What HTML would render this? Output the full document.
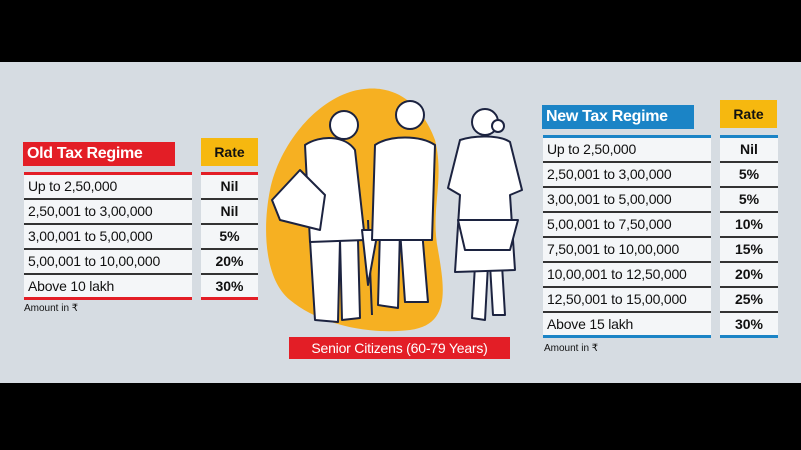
<!DOCTYPE html>
<html><head><meta charset="utf-8"><style>
*{margin:0;padding:0;box-sizing:border-box}
body{width:801px;height:450px;overflow:hidden;background:#000;font-family:"Liberation Sans",sans-serif;position:relative}
#bg{position:absolute;left:0;top:62px;width:801px;height:321px;background:#d6dce2}
.abs{position:absolute}
.hdr{color:#fff;font-weight:bold;font-size:16px;line-height:24px;padding-left:4px;letter-spacing:-0.3px}
.rate{background:#f6b80f;color:#111;font-weight:bold;font-size:14px;text-align:center}
.tbl{background:#f4f6f8}
.row{height:25px;border-bottom:2px solid #333;font-size:14px;line-height:23px;color:#111;padding-left:4px;letter-spacing:-0.2px}
.rrow{height:25px;border-bottom:2px solid #333;font-size:14px;line-height:23px;color:#111;font-weight:bold;text-align:center}
.note{font-size:10px;color:#111}
</style></head><body>
<div id="bg"></div>

<!-- Old regime -->
<div class="abs hdr" style="left:23px;top:142px;width:152px;height:24px;background:#e31e26">Old Tax Regime</div>
<div class="abs rate" style="left:201px;top:138px;width:57px;height:28px;line-height:28px">Rate</div>
<div class="abs tbl" style="left:24px;top:172px;width:168px;border-top:3px solid #e31e26">
<div class="row">Up to 2,50,000</div><div class="row">2,50,001 to 3,00,000</div><div class="row">3,00,001 to 5,00,000</div><div class="row">5,00,001 to 10,00,000</div><div class="row" style="border-bottom:3px solid #e31e26">Above 10 lakh</div>
</div>
<div class="abs tbl" style="left:201px;top:172px;width:57px;border-top:3px solid #e31e26">
<div class="rrow">Nil</div><div class="rrow">Nil</div><div class="rrow">5%</div><div class="rrow">20%</div><div class="rrow" style="border-bottom:3px solid #e31e26">30%</div>
</div>
<div class="abs note" style="left:24px;top:303px">Amount in ₹</div>

<!-- New regime -->
<div class="abs hdr" style="left:542px;top:105px;width:152px;height:24px;background:#1b84c6">New Tax Regime</div>
<div class="abs rate" style="left:720px;top:100px;width:57px;height:28px;line-height:28px">Rate</div>
<div class="abs tbl" style="left:543px;top:135px;width:168px;border-top:3px solid #1b84c6">
<div class="row">Up to 2,50,000</div><div class="row">2,50,001 to 3,00,000</div><div class="row">3,00,001 to 5,00,000</div><div class="row">5,00,001 to 7,50,000</div><div class="row">7,50,001 to 10,00,000</div><div class="row">10,00,001 to 12,50,000</div><div class="row">12,50,001 to 15,00,000</div><div class="row" style="border-bottom:3px solid #1b84c6">Above 15 lakh</div>
</div>
<div class="abs tbl" style="left:720px;top:135px;width:58px;border-top:3px solid #1b84c6">
<div class="rrow">Nil</div><div class="rrow">5%</div><div class="rrow">5%</div><div class="rrow">10%</div><div class="rrow">15%</div><div class="rrow">20%</div><div class="rrow">25%</div><div class="rrow" style="border-bottom:3px solid #1b84c6">30%</div>
</div>
<div class="abs note" style="left:544px;top:343px">Amount in ₹</div>

<!-- Illustration -->
<svg class="abs" style="left:260px;top:80px" width="270" height="260">
<path d="M90 12 C130 0 160 20 175 60 C185 100 170 130 178 170 C185 210 190 245 150 250 C110 255 60 245 30 220 C5 200 2 150 10 110 C18 70 50 25 90 12Z" fill="#f6b022"/>
<g fill="#fff" stroke="#1c2340" stroke-width="2" stroke-linejoin="round">
<!-- left man -->
<path d="M50 160 L55 240 L78 242 L80 160Z"/><path d="M80 160 L82 240 L100 238 L98 160Z"/>
<path d="M45 65 C60 55 85 55 95 70 L105 160 L50 162 Z"/>
<circle cx="84" cy="45" r="14"/>
<path d="M12 120 L40 90 L65 115 L60 150 L20 140Z"/>
<path d="M108 140 L112 235" fill="none"/><path d="M102 150 L108 205 L118 150Z"/>
<!-- middle man -->
<path d="M120 150 L118 225 L138 228 L140 150Z"/><path d="M140 150 L145 222 L168 222 L162 150Z"/>
<path d="M115 65 C130 55 160 55 175 65 L172 160 L112 160Z"/>
<circle cx="150" cy="35" r="14"/>
<!-- woman -->
<path d="M215 185 L212 238 L225 240 L228 185Z"/><path d="M230 185 L233 235 L245 235 L242 185Z"/>
<path d="M200 60 C215 55 240 55 250 62 L262 110 L250 115 L255 190 L195 192 L200 115 L188 108Z"/>
<circle cx="225" cy="42" r="13"/><circle cx="238" cy="46" r="6"/>
<path d="M198 140 L258 140 L250 170 L205 170Z"/>
</g>
</svg>
<div class="abs" style="left:289px;top:337px;width:221px;height:22px;background:#e31e26;color:#fff;font-size:14px;line-height:22px;text-align:center;letter-spacing:-0.2px">Senior Citizens (60-79 Years)</div>
</body></html>
